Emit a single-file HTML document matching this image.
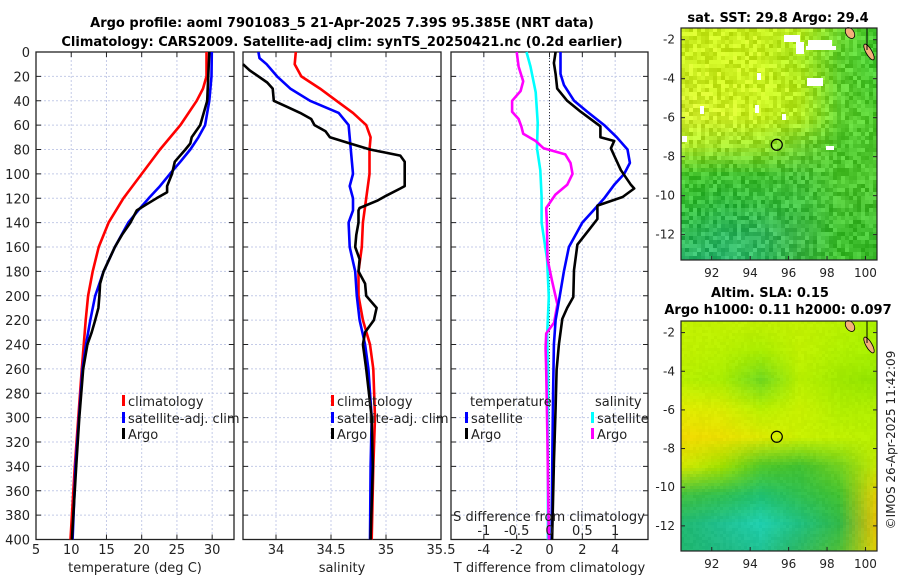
<!DOCTYPE html>
<html><head><meta charset="utf-8">
<style>
body{margin:0;background:#fff;}
svg{display:block;font-family:"DejaVu Sans","Liberation Sans",sans-serif;}
</style></head>
<body>
<svg id="fig" width="900" height="580" viewBox="0 0 900 580" xmlns="http://www.w3.org/2000/svg">
<text x="342" y="27" font-size="13" font-weight="bold" text-anchor="middle">Argo profile: aoml 7901083_5 21-Apr-2025 7.39S 95.385E (NRT data)</text>
<text x="342" y="46" font-size="13" font-weight="bold" text-anchor="middle">Climatology: CARS2009. Satellite-adj clim: synTS_20250421.nc (0.2d earlier)</text>
<g id="g1"></g>
<g id="g2"></g>
<g id="g3"></g>
<g id="m1"></g>
<g id="m2"></g>
<text x="778" y="22" font-size="13" font-weight="bold" text-anchor="middle">sat. SST: 29.8 Argo: 29.4</text>
<text x="770" y="297" font-size="13" font-weight="bold" text-anchor="middle">Altim. SLA: 0.15</text>
<text x="778" y="314" font-size="13" font-weight="bold" text-anchor="middle">Argo h1000: 0.11 h2000: 0.097</text>
<text transform="translate(895,440) rotate(-90)" font-size="12" text-anchor="middle" fill="#222">©IMOS 26-Apr-2025 11:42:09</text>
</svg>
<script>
// ---- chart data ----
const depthTicks=[0,20,40,60,80,100,120,140,160,180,200,220,240,260,280,300,320,340,360,380,400];
const tempTicks=[5,10,15,20,25,30];
const salTicks=[34,34.5,35,35.5];
const tdiffTicks=[-4,-2,0,2,4];
const sdiffTicks=[-1,-0.5,0,0.5,1];
const tClimDepth=[0,20,30,40,60,80,100,120,140,160,180,200,220,260,300,340,400];
const tClimVal=[29.2,29.2,28.7,27.8,25.5,22.6,20.0,17.4,15.3,13.9,13.05,12.4,12.05,11.5,11.0,10.5,9.9];
const tSatDepth=[0,20,40,60,70,80,90,100,110,120,130,140,160,180,200,220,240,260,300,340,400];
const tSatVal=[29.95,29.9,29.6,29.0,28.05,26.9,25.5,24.0,22.6,21.0,19.5,18.1,16.2,14.6,13.4,12.7,12.1,11.6,11.1,10.6,10.2];
const tArgoDepth=[0,40,60,70,75,80,90,100,110,115,120,125,130,140,150,160,180,190,200,210,220,230,240,260,300,340,400];
const tArgoVal=[29.6,29.3,28.3,27.1,26.9,26.2,24.7,24.3,23.6,23.6,22.1,20.7,19.3,18.4,17.2,16.2,14.6,14.1,14.0,13.85,13.4,12.9,12.3,11.7,11.15,10.7,10.1];
const sClimDepth=[0,10,20,30,40,50,60,70,80,100,120,140,160,180,200,220,240,260,300,340,400];
const sClimVal=[34.18,34.17,34.23,34.40,34.55,34.70,34.82,34.86,34.85,34.85,34.82,34.79,34.78,34.75,34.75,34.79,34.855,34.885,34.90,34.885,34.87];
const sSatDepth=[0,5,10,20,30,40,50,60,70,80,90,100,110,120,130,140,160,180,200,220,240,260,300,340,400];
const sSatVal=[33.84,33.85,33.915,34.01,34.13,34.31,34.57,34.66,34.67,34.68,34.69,34.70,34.67,34.70,34.70,34.66,34.67,34.72,34.735,34.76,34.81,34.84,34.87,34.86,34.855];
const sArgoDepth=[10,15,25,30,40,45,50,55,60,65,70,75,80,85,90,100,110,112,118,122,128,130,140,150,160,170,180,190,200,210,220,230,240,260,300,340,400];
const sArgoVal=[33.70,33.76,33.92,33.97,33.98,34.10,34.22,34.32,34.35,34.45,34.49,34.67,34.855,35.13,35.17,35.17,35.17,35.13,35.0,34.92,34.76,34.75,34.75,34.73,34.72,34.76,34.75,34.81,34.82,34.915,34.89,34.81,34.79,34.82,34.87,34.88,34.86];
const dtSatDepth=[0,18,27,40,49,60,70,80,91,100,109,120,131,140,160,180,200,220,240,280,320,400];
const dtSatVal=[0.67,0.67,0.88,1.5,2.3,3.33,4.1,4.75,4.9,4.55,3.94,3.33,2.6,2.0,1.18,0.88,0.63,0.37,0.27,0.22,0.18,0.12];
const dtArgoDepth=[0,9,18,30,40,49,61,70,73,79,85,97,109,112,119,126,137,146,158,179,201,210,219,240,261,292,337,400];
const dtArgoVal=[0.37,0.27,0.37,0.47,1.08,1.9,3.1,3.1,3.94,3.74,3.94,4.35,4.96,5.16,4.45,2.92,2.92,2.4,1.7,1.49,1.45,1.08,0.78,0.57,0.43,0.37,0.27,0.16];
const dsSatDepth=[0,12,33,58,79,97,119,140,170,201,231,261,400];
const dsSatVal=[-0.35,-0.29,-0.21,-0.18,-0.19,-0.14,-0.12,-0.12,-0.036,-0.01,-0.035,-0.025,-0.025];
const dsArgoDepth=[0,12,24,32,40,49,55,61,67,73,79,84,91,100,109,117,128,140,170,188,207,222,231,243,261,292,322,400];
const dsArgoVal=[-0.5,-0.47,-0.4,-0.44,-0.57,-0.57,-0.47,-0.43,-0.40,-0.21,-0.09,0.24,0.32,0.35,0.27,0.09,-0.05,-0.04,-0.03,0.04,0.12,0.07,-0.05,-0.06,-0.05,-0.04,-0.03,-0.01];

const NS='http://www.w3.org/2000/svg';
function mk(tag,attrs,parent,txt){const e=document.createElementNS(NS,tag);for(const k in attrs)e.setAttribute(k,attrs[k]);if(txt!==undefined)e.textContent=txt;parent.appendChild(e);return e;}
const TOP=52,BOT=539.5;
const yD=d=>TOP+(BOT-TOP)*d/400;

function panel(g,L,R,xmin,xmax,ticks,tickLbl,yLabels,xlabel){
  const xf=v=>L+(R-L)*(v-xmin)/(xmax-xmin);
  depthTicks.forEach(d=>{
    const l=mk('line',{x1:L,x2:R,y1:yD(d),y2:yD(d),stroke:'#c4cbe8','stroke-width':1,'stroke-dasharray':'2,2'},g);
    
    mk('line',{x1:L,x2:L+5,y1:yD(d),y2:yD(d),stroke:'#222'},g);
    mk('line',{x1:R-5,x2:R,y1:yD(d),y2:yD(d),stroke:'#222'},g);
    if(yLabels){const t=mk('text',{x:L-6,y:yD(d)+5,'font-size':13,'text-anchor':'end',fill:'#222'},g,String(d));
      }
  });
  ticks.forEach(v=>{
    const x=xf(v);
    if(x>L+1&&x<R-1){const l=mk('line',{x1:x,x2:x,y1:TOP,y2:BOT,stroke:'#c4cbe8','stroke-dasharray':'2,2'},g);
      }
    mk('line',{x1:x,x2:x,y1:BOT,y2:BOT-5,stroke:'#222'},g);
    mk('line',{x1:x,x2:x,y1:TOP,y2:TOP+5,stroke:'#222'},g);
    if(tickLbl){const t=mk('text',{x:x,y:554,'font-size':13,'text-anchor':'middle',fill:'#222'},g,String(v));
      }
  });
  const f=mk('rect',{x:L,y:TOP,width:R-L,height:BOT-TOP,fill:'none',stroke:'#222','stroke-width':1.3},g);
  
  const xt=mk('text',{x:(L+R)/2,y:572,'font-size':13,'text-anchor':'middle',fill:'#222'},g,xlabel);
  
  return xf;
}
function series(g,xf,ds,vs,color,name){
  const p=ds.map((d,i)=>xf(vs[i]).toFixed(1)+','+yD(d).toFixed(1)).join(' ');
  const e=mk('polyline',{points:p,fill:'none',stroke:color,'stroke-width':2.6,'stroke-linejoin':'round'},g);
  
}
function legend(g,x,y,color,label,name){
  const b=mk('rect',{x:x,y:y-6,width:3,height:11,fill:color},g);
  
  const t=mk('text',{x:x+6,y:y+5,'font-size':13,fill:'#222'},g,label);
  
}
// Panel 1
const g1=document.getElementById('g1');
const x1=panel(g1,36,234,5,33.1,tempTicks,true,true,'temperature (deg C)');
series(g1,x1,tClimDepth,tClimVal,'#f00','temp-climatology-line');
series(g1,x1,tSatDepth,tSatVal,'#00f','temp-satellite-line');
series(g1,x1,tArgoDepth,tArgoVal,'#000','temp-argo-line');
legend(g1,122,401,'#f00','climatology','legend-climatology');
legend(g1,122,418,'#00f','satellite-adj. clim','legend-satellite');
legend(g1,122,434,'#000','Argo','legend-argo');
// Panel 2
const g2=document.getElementById('g2');
const x2=panel(g2,243,441,33.7,35.5,salTicks,true,false,'salinity');
series(g2,x2,sClimDepth,sClimVal,'#f00','sal-climatology-line');
series(g2,x2,sSatDepth,sSatVal,'#00f','sal-satellite-line');
series(g2,x2,sArgoDepth,sArgoVal,'#000','sal-argo-line');
legend(g2,331,401,'#f00','climatology','legend-climatology-s');
legend(g2,331,418,'#00f','satellite-adj. clim','legend-satellite-s');
legend(g2,331,434,'#000','Argo','legend-argo-s');
// Panel 3
const g3=document.getElementById('g3');
const x3=panel(g3,451,648,-6,6,tdiffTicks,true,false,'T difference from climatology');
const xs=v=>451+(648-451)*(v+1.5)/3;
const zl=mk('line',{x1:x3(0),x2:x3(0),y1:TOP,y2:BOT,stroke:'#333','stroke-dasharray':'1,2'},g3);

series(g3,xs,dsSatDepth,dsSatVal,'#0ff','sdiff-satellite-line');
series(g3,xs,dsArgoDepth,dsArgoVal,'#f0f','sdiff-argo-line');
series(g3,x3,dtSatDepth,dtSatVal,'#00f','tdiff-satellite-line');
series(g3,x3,dtArgoDepth,dtArgoVal,'#000','tdiff-argo-line');
let tt=mk('text',{x:470,y:406,'font-size':13,fill:'#222'},g3,'temperature');

tt=mk('text',{x:595,y:406,'font-size':13,fill:'#222'},g3,'salinity');

legend(g3,465,418,'#00f','satellite','legend-t-satellite');
legend(g3,465,434,'#000','Argo','legend-t-argo');
legend(g3,591,418,'#0ff','satellite','legend-s-satellite');
legend(g3,591,434,'#f0f','Argo','legend-s-argo');
tt=mk('text',{x:549,y:521,'font-size':13,'text-anchor':'middle',fill:'#222'},g3,'S difference from climatology');

sdiffTicks.forEach(v=>{const t=mk('text',{x:xs(v),y:535,'font-size':13,'text-anchor':'middle',fill:'#222'},g3,String(v));
  });

// ---- maps ----
const lonTicks=[92,94,96,98,100];
const latTicks=[-2,-4,-6,-8,-10,-12];
const sstKey=[
['ccf020','ccf020','c8f020','b8ec20','70d830','40c830'],
['ccf020','ccf020','c8f020','a8e820','60d030','40c830'],
['d0f028','ccf020','c8f020','b8ec20','60d030','48c830'],
['d4f030','d0f028','c8f020','b0e820','60d030','50cc30'],
['b0e828','a0e028','98e028','70d030','50c830','50c830'],
['48c830','40c030','40c030','48c038','50c830','50c830'],
['38c038','30b840','38bc40','40c040','48c030','48c030'],
['30b850','30b860','38b860','40b848','40c030','40c030'],
['30b870','30b870','30b860','40b848','40c030','40c030']];
const slaKey=[
['c0f000','c0f000','c0f000','c0f000','b8f000','a8f000'],
['c0f000','b8f000','a8ec00','c0f000','b0f000','a8f000'],
['b8f000','a8ec00','70d820','b8f000','a0e800','90e400'],
['e0ec00','d8ec00','b8f000','c8f000','b0ee00','b0ee00'],
['f0d800','ece000','dce800','c8f000','c0f000','b8f000'],
['d0e800','a0e000','50c828','40c030','70d020','c8e800'],
['40c040','30c050','20c070','30c050','40c030','f0d000'],
['20b870','20c090','20d0b0','20c080','30b848','f0c000'],
['20b870','20b880','20c090','30b860','50c038','e8d000']];
function hx(c){return [parseInt(c.slice(0,2),16),parseInt(c.slice(2,4),16),parseInt(c.slice(4,6),16)];}
function drawMap(g,key,L,R,T,B,latTop,latBot,noise,whites,cs){
  const lonMin=90.4,lonMax=100.6;
  const lx=v=>L+(R-L)*(v-lonMin)/(lonMax-lonMin);
  const ly=v=>T+(B-T)*(latTop-v)/(latTop-latBot);
  const nr=key.length,nc=key[0].length;
  for(let y=T;y<B;y+=cs){for(let x=L;x<R;x+=cs){
    const u=(x-L)/(R-L)*(nc-1),v=(y-T)/(B-T)*(nr-1);
    const i=Math.min(Math.floor(v),nr-2),j=Math.min(Math.floor(u),nc-2),fv=v-i,fu=u-j;
    const a=hx(key[i][j]),b=hx(key[i][j+1]),c=hx(key[i+1][j]),d=hx(key[i+1][j+1]);
    let h=((x*73856093)^(y*19349663))>>>0;h=(h%1000)/1000-0.5;
    const col=[0,1,2].map(k=>Math.max(0,Math.min(255,Math.round(a[k]*(1-fu)*(1-fv)+b[k]*fu*(1-fv)+c[k]*(1-fu)*fv+d[k]*fu*fv+h*noise))));
    mk('rect',{x:x,y:y,width:Math.min(cs,R-x),height:Math.min(cs,B-y),fill:'rgb('+col.join(',')+')'},g);
  }}
  whites.forEach(w=>{const r=mk('rect',{x:w[0],y:w[1],width:w[2],height:w[3],fill:'#fff'},g);
    });
  mk('ellipse',{cx:R-27,cy:T+5,rx:4,ry:6,fill:'#f4b07a',stroke:'#000','stroke-width':0.8,transform:'rotate(-35 '+(R-27)+' '+(T+5)+')'},g);
  mk('ellipse',{cx:R-8,cy:T+24,rx:3,ry:9,fill:'#f4b07a',stroke:'#000','stroke-width':0.8,transform:'rotate(-30 '+(R-8)+' '+(T+24)+')'},g);
  mk('line',{x1:R-10,y1:T,x2:R-10,y2:T+22,stroke:'#000'},g);
  const c=mk('circle',{cx:lx(95.385),cy:ly(-7.39),r:5.5,fill:'none',stroke:'#000','stroke-width':1.2},g);
  
  mk('rect',{x:L,y:T,width:R-L,height:B-T,fill:'none',stroke:'#222','stroke-width':1.2},g);
  lonTicks.forEach(v=>{mk('line',{x1:lx(v),x2:lx(v),y1:B,y2:B-4,stroke:'#222'},g);
    const t=mk('text',{x:lx(v),y:B+17,'font-size':12,'text-anchor':'middle',fill:'#222'},g,String(v));
    });
  latTicks.forEach(v=>{mk('line',{x1:L,x2:L+4,y1:ly(v),y2:ly(v),stroke:'#222'},g);
    mk('line',{x1:R-4,x2:R,y1:ly(v),y2:ly(v),stroke:'#222'},g);
    const t=mk('text',{x:L-6,y:ly(v)+4,'font-size':12,'text-anchor':'end',fill:'#222'},g,String(v));
    });
}
drawMap(document.getElementById('m1'),sstKey,681,877,28,260,-1.4,-13.3,50,
 [[784,35,16,7],[796,42,8,12],[808,40,24,8],[806,46,30,4],[807,78,16,8],[757,73,4,7],[700,106,4,8],[755,105,4,8],[682,136,5,6],[826,146,8,4],[782,114,4,6]],4);
drawMap(document.getElementById('m2'),slaKey,681,877,321,551,-1.4,-13.3,8,[],3);
</script>
</body></html>
